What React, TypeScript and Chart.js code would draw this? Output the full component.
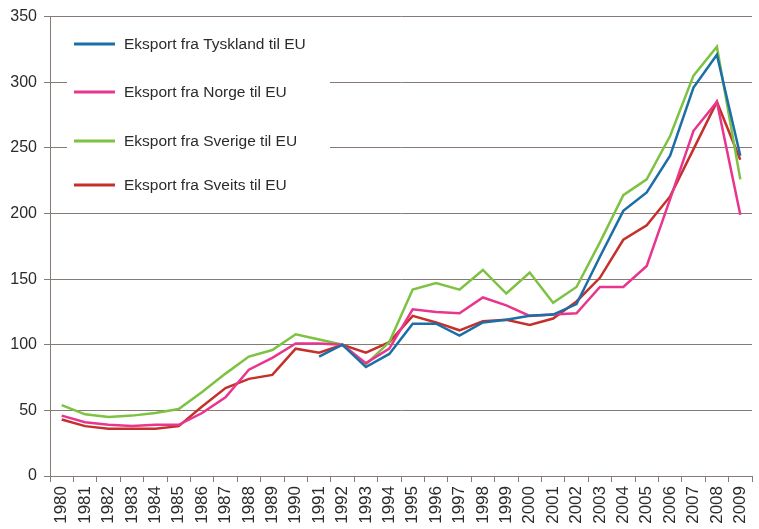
import React, { useEffect, useRef } from "react";
import { Chart, registerables } from "chart.js";

Chart.register(...registerables);

const years = [
  "1980", "1981", "1982", "1983", "1984", "1985", "1986", "1987", "1988", "1989",
  "1990", "1991", "1992", "1993", "1994", "1995", "1996", "1997", "1998", "1999",
  "2000", "2001", "2002", "2003", "2004", "2005", "2006", "2007", "2008", "2009",
];

const tyskland = [
  null, null, null, null, null, null, null, null, null, null,
  null, 91, 100, 83, 93, 116, 116, 107, 117, 119,
  122, 123, 131, 167, 202, 216, 244, 296, 321, 244,
];
const norge = [
  46, 41, 39, 38, 39, 39, 48, 60, 81, 90,
  101, 101, 100, 86, 97, 127, 125, 124, 136, 130,
  122, 123, 124, 144, 144, 160, 211, 263, 285, 199,
];
const sverige = [
  54, 47, 45, 46, 48, 51, 64, 78, 91, 96,
  108, 104, 100, 85, 102, 142, 147, 142, 157, 139,
  155, 132, 144, 178, 214, 226, 259, 305, 327, 226,
];
const sveits = [
  43, 38, 36, 36, 36, 38, 53, 67, 74, 77,
  97, 94, 100, 94, 102, 122, 117, 111, 118, 119,
  115, 120, 133, 151, 180, 191, 213, 249, 285, 241,
];

const seriesLabels = [
  "Eksport fra Tyskland til EU",
  "Eksport fra Norge til EU",
  "Eksport fra Sverige til EU",
  "Eksport fra Sveits til EU",
];
const seriesColors = ["#1b6fa6", "#e8368f", "#7dc242", "#c5302b"];

const FONT = "'Liberation Sans', Arial, sans-serif";
const GRID = "#857a75";

const legendPlugin = {
  id: "boxLegend",
  beforeDatasetsDraw(chart: any) {
    const ctx = chart.ctx;
    ctx.save();
    ctx.fillStyle = "#ffffff";
    ctx.fillRect(67, 25, 263, 175);
    const rowsY = [44, 92, 141, 185];
    chart.data.datasets.forEach((ds: any, i: number) => {
      const y = rowsY[i];
      ctx.strokeStyle = ds.borderColor;
      ctx.lineWidth = 3;
      ctx.beginPath();
      ctx.moveTo(74, y);
      ctx.lineTo(115, y);
      ctx.stroke();
      ctx.fillStyle = "#2b2b2b";
      ctx.font = `15.5px ${FONT}`;
      ctx.textBaseline = "middle";
      ctx.textAlign = "left";
      ctx.fillText(ds.label, 124, y + 1);
    });
    ctx.restore();
  },
};

export default function App() {
  const ref = useRef<HTMLCanvasElement | null>(null);

  useEffect(() => {
    if (!ref.current) return;
    const seriesData = [tyskland, norge, sverige, sveits];
    const chart = new Chart(ref.current, {
      type: "line",
      data: {
        labels: years,
        datasets: seriesData.map((d, i) => ({
          label: seriesLabels[i],
          data: d,
          borderColor: seriesColors[i],
          backgroundColor: seriesColors[i],
          borderWidth: 2.5,
          pointRadius: 0,
          tension: 0,
          fill: false,
          spanGaps: false,
        })),
      },
      options: {
        animation: false,
        responsive: false,
        maintainAspectRatio: false,
        layout: { padding: { top: 16, right: 7, left: 0, bottom: 0 } },
        plugins: {
          legend: { display: false },
          tooltip: { enabled: false },
        },
        scales: {
          x: {
            offset: true,
            grid: {
              offset: true,
              drawOnChartArea: false,
              drawTicks: true,
              tickLength: 6,
              color: GRID,
            },
            border: { display: true, color: GRID, width: 1 },
            ticks: {
              autoSkip: false,
              maxRotation: 90,
              minRotation: 90,
              padding: 4,
              color: "#2b2b2b",
              font: { family: FONT, size: 17 },
            },
            afterFit: (s: any) => {
              s.height = 53;
              s.paddingRight = 0;
              s.paddingLeft = 0;
            },
          },
          y: {
            min: 0,
            max: 350,
            ticks: {
              stepSize: 50,
              padding: 7,
              color: "#2b2b2b",
              font: { family: FONT, size: 16 },
            },
            grid: {
              color: GRID,
              lineWidth: 1,
              tickLength: 6,
            },
            border: { display: true, color: GRID, width: 1 },
            afterFit: (s: any) => {
              s.width = 50;
            },
          },
        },
      },
      plugins: [legendPlugin],
    });
    return () => chart.destroy();
  }, []);

  return (
    <div style={{ position: "fixed", left: 0, top: 0, width: 759, height: 529, background: "#fff" }}>
      <canvas ref={ref} width={759} height={529} style={{ width: 759, height: 529, display: "block" }} />
    </div>
  );
}
